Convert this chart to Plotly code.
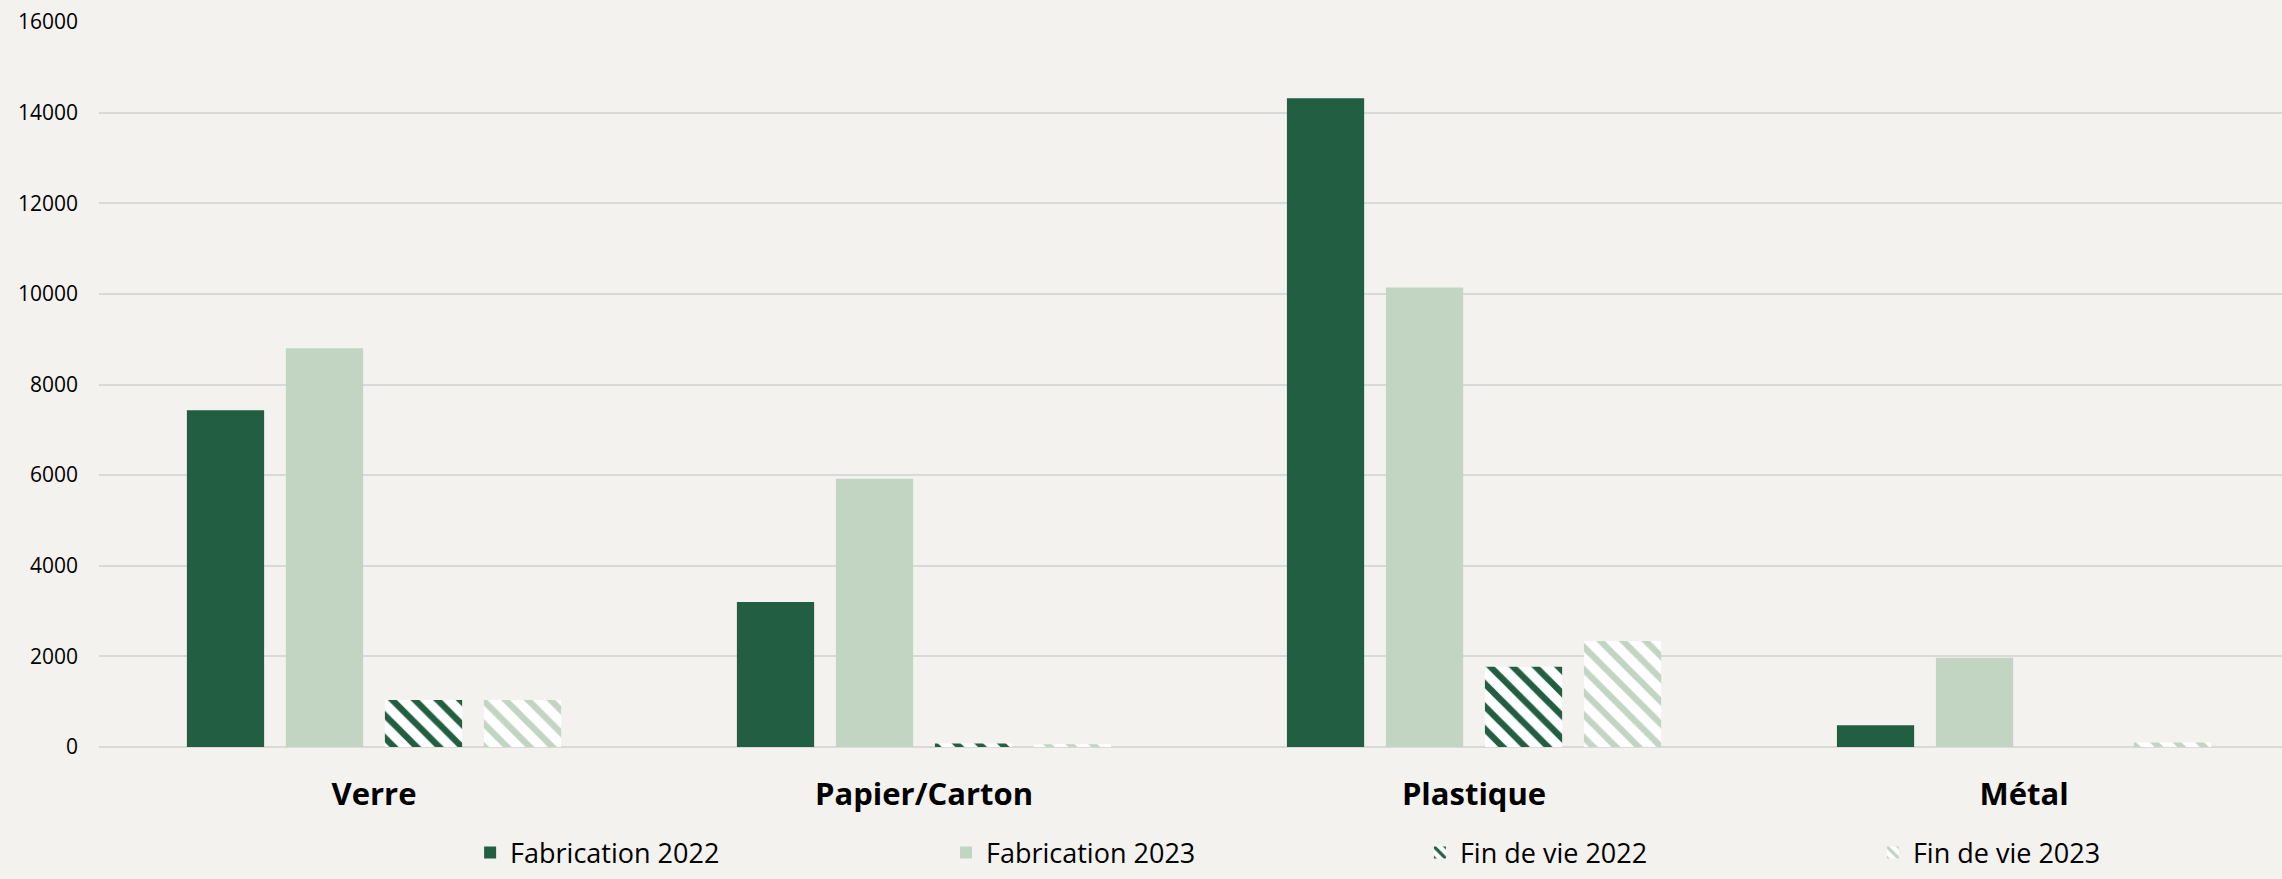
import plotly.graph_objects as go

categories = ["Verre", "Papier/Carton", "Plastique", "Métal"]
series_names = ["Fabrication 2022", "Fabrication 2023", "Fin de vie 2022", "Fin de vie 2023"]
fab_2022 = [7430, 3200, 14320, 480]
fab_2023 = [8800, 5920, 10140, 1970]
fdv_2022 = [1040, 80, 1770, 0]
fdv_2023 = [1040, 60, 2340, 100]
y_ticks = [0, 2000, 4000, 6000, 8000, 10000, 12000, 14000, 16000]

DARK = "#225E41"
LIGHT = "#C1D5C2"
BG = "#F3F2EE"

legend_ids = ["legend", "legend2", "legend3", "legend4"]
legend_x = [0.1700, 0.3880, 0.6051, 0.8126]

fig = go.Figure()
fig.add_trace(go.Bar(name=series_names[0], x=categories, y=fab_2022, legend=legend_ids[0],
                     marker=dict(color=DARK, line=dict(width=0))))
fig.add_trace(go.Bar(name=series_names[1], x=categories, y=fab_2023, legend=legend_ids[1],
                     marker=dict(color=LIGHT, line=dict(width=0))))
fig.add_trace(go.Bar(name=series_names[2], x=categories, y=fdv_2022, legend=legend_ids[2],
                     marker=dict(color="white", line=dict(width=0),
                                 pattern=dict(shape="\\", fgcolor=DARK, bgcolor="white",
                                              size=16, solidity=0.4, fillmode="replace"))))
fig.add_trace(go.Bar(name=series_names[3], x=categories, y=fdv_2023, legend=legend_ids[3],
                     marker=dict(color="white", line=dict(width=0),
                                 pattern=dict(shape="\\", fgcolor=LIGHT, bgcolor="white",
                                              size=16, solidity=0.4, fillmode="replace"))))

legend_style = dict(xanchor="left", yanchor="bottom", y=-0.180,
                    font=dict(size=27, family="Open Sans", color="#000000"),
                    bgcolor="rgba(0,0,0,0)", borderwidth=0)

fig.update_layout(
    width=2282, height=879,
    paper_bgcolor=BG, plot_bgcolor=BG,
    margin=dict(l=99, r=0, t=22, b=132),
    barmode="group", bargap=0.28, bargroupgap=0.22,
    font=dict(family="Open Sans", color="#000000"),
    showlegend=True,
    legend=dict(x=legend_x[0], **legend_style),
    legend2=dict(x=legend_x[1], **legend_style),
    legend3=dict(x=legend_x[2], **legend_style),
    legend4=dict(x=legend_x[3], **legend_style),
    xaxis=dict(range=[-0.5, 3.469], showgrid=False, showline=False, zeroline=False,
               tickfont=dict(size=31, family="Open Sans", color="#000000", weight="bold"),
               ticks="", ticklabelstandoff=26),
    yaxis=dict(range=[0, 16000], tickvals=y_ticks, ticktext=[str(v) for v in y_ticks],
               showgrid=True, gridcolor="#D9D9D9", gridwidth=2, zeroline=True,
               zerolinecolor="#D9D9D9", zerolinewidth=2, showline=False, ticks="",
               tickfont=dict(size=21, family="Open Sans", color="#000000"),
               ticklabelstandoff=20),
)

fig.write_html("out.html", config={"displayModeBar": False},
               post_script="document.body.style.margin='0';document.body.style.overflow='hidden';")
